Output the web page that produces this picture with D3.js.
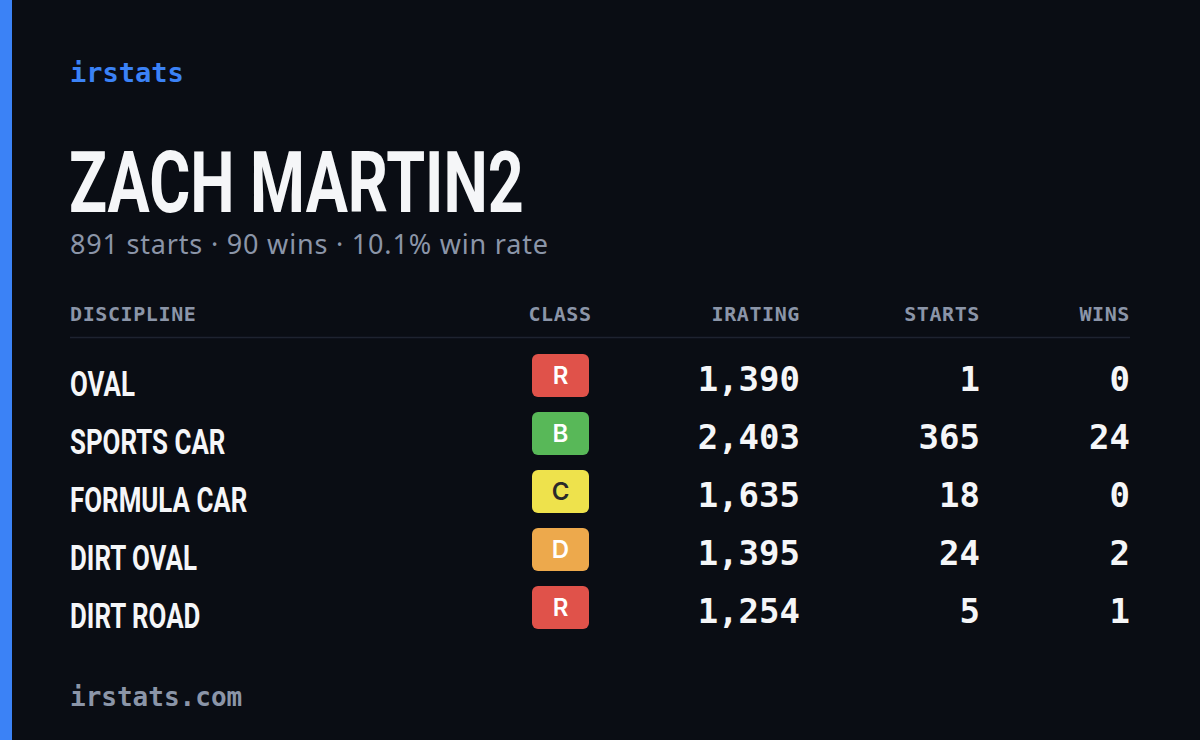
<!DOCTYPE html>
<html><head><meta charset="utf-8">
<script src="https://cdn.jsdelivr.net/npm/d3@7"></script>
<style>body{margin:0;background:#0a0d14}svg{display:block}</style>
</head><body>
<script>
const disciplines = ["OVAL", "SPORTS CAR", "FORMULA CAR", "DIRT OVAL", "DIRT ROAD"];
const classes = ["R", "B", "C", "D", "R"];
const iratings = [1390, 2403, 1635, 1395, 1254];
const starts = [1, 365, 18, 24, 5];
const wins = [0, 24, 0, 2, 1];
const headers = ["DISCIPLINE", "CLASS", "IRATING", "STARTS", "WINS"];
const totalStarts = 891, totalWins = 90, winRate = "10.1%";
const classColors = {R: "#e0524a", B: "#58b858", C: "#eee24c", D: "#eda94c"};
const classText = {R: "#ffffff", B: "#ffffff", C: "#2a2a2a", D: "#ffffff"};

const W = 1200, H = 740;
const mono = "'DejaVu Sans Mono', monospace";
const cond = "Roboto, sans-serif";
const sq = 0.74; // horizontal squeeze to fake a condensed face
const svg = d3.select("body").append("svg").attr("width", W).attr("height", H);
svg.append("rect").attr("width", W).attr("height", H).attr("fill", "#0a0d14");
svg.append("rect").attr("width", 12).attr("height", H).attr("fill", "#3b82f6");

svg.append("text").attr("x", 70).attr("y", 82).text("irstats")
  .attr("font-family", mono).attr("font-weight", "bold").attr("font-size", 27).attr("fill", "#3b82f6");
svg.append("text").attr("transform", `translate(69,212) scale(0.73,1)`).text("ZACH MARTIN2")
  .attr("font-family", cond).attr("font-weight", "bold").attr("font-size", 86)
  .attr("fill", "#f5f6f8");
svg.append("text").attr("x", 70).attr("y", 254)
  .text(`${totalStarts} starts · ${totalWins} wins · ${winRate} win rate`)
  .attr("font-family", "'Noto Sans', sans-serif").attr("font-size", 27).attr("fill", "#8b95a8")
  .attr("textLength", 478).attr("lengthAdjust", "spacing");

const cols = [[70, "start"], [560, "middle"], [800, "end"], [980, "end"], [1130, "end"]];
svg.selectAll(".hdr").data(headers).join("text")
  .attr("x", (d, i) => cols[i][0]).attr("y", 321).attr("text-anchor", (d, i) => cols[i][1])
  .attr("font-family", mono).attr("font-weight", "bold").attr("font-size", 20).attr("letter-spacing", 0.6)
  .attr("fill", "#8b95a8").text(d => d);
svg.append("line").attr("x1", 70).attr("x2", 1130).attr("y1", 337.5).attr("y2", 337.5)
  .attr("stroke", "#1e2330").attr("stroke-width", 1.5);

const y = d3.scaleBand().domain(d3.range(disciplines.length)).range([346, 636]);
const fmt = d3.format(",");
const rows = svg.selectAll(".row").data(disciplines).join("g")
  .attr("transform", (d, i) => `translate(0,${y(i)})`);
rows.append("text").attr("transform", `translate(70,50) scale(${sq},1)`).text(d => d)
  .attr("font-family", cond).attr("font-weight", "bold").attr("font-size", 35).attr("fill", "#f5f6f8");
rows.append("rect").attr("x", 532).attr("y", 8).attr("width", 57).attr("height", 43).attr("rx", 6)
  .attr("fill", (d, i) => classColors[classes[i]]);
rows.append("text").attr("x", 560.5).attr("y", 38).attr("text-anchor", "middle")
  .attr("font-family", "Inter, 'Noto Sans', sans-serif").attr("font-weight", "600").attr("font-size", 24)
  .attr("fill", (d, i) => classText[classes[i]]).text((d, i) => classes[i]);
const nums = [iratings.map(fmt), starts, wins];
nums.forEach((arr, k) => {
  rows.append("text").attr("x", cols[k + 2][0]).attr("y", 45).attr("text-anchor", "end")
    .attr("font-family", mono).attr("font-weight", "bold").attr("font-size", 34)
    .attr("fill", "#f5f6f8").text((d, i) => arr[i]);
});

svg.append("text").attr("x", 70).attr("y", 706).text("irstats.com")
  .attr("font-family", mono).attr("font-weight", "bold").attr("font-size", 26).attr("fill", "#8b95a8");
</script>
</body></html>
